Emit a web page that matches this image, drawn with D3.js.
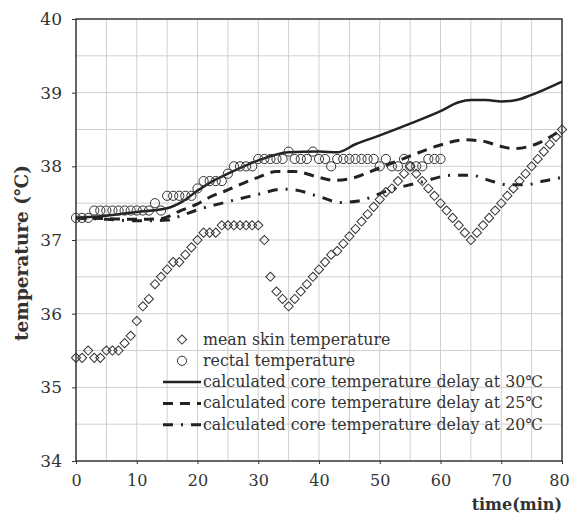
<!DOCTYPE html>
<html>
<head>
<meta charset="utf-8">
<script src="https://cdn.jsdelivr.net/npm/d3@7"></script>
<style>
  body { margin: 0; background: #fff; }
  svg { display: block; }
  text { font-family: "DejaVu Serif", "Liberation Serif", serif; fill: #333; }
</style>
</head>
<body>
<div id="chart"></div>
<script>
// time (min) for the measured series, one reading per minute
const skinTime = d3.range(0, 81);
const skinTemp = [35.4, 35.4, 35.5, 35.4, 35.4, 35.5, 35.5, 35.5, 35.6, 35.7,
  35.9, 36.1, 36.2, 36.4, 36.5, 36.6, 36.7, 36.7, 36.8, 36.9,
  37.0, 37.1, 37.1, 37.1, 37.2, 37.2, 37.2, 37.2, 37.2, 37.2,
  37.2, 37.0, 36.5, 36.3, 36.2, 36.1, 36.2, 36.3, 36.4, 36.5,
  36.6, 36.7, 36.8, 36.85, 36.95, 37.05, 37.15, 37.25, 37.35, 37.45,
  37.55, 37.65, 37.7, 37.8, 37.9, 38.0, 37.9, 37.8, 37.7, 37.6,
  37.5, 37.4, 37.3, 37.2, 37.1, 37.0, 37.1, 37.2, 37.3, 37.4,
  37.5, 37.6, 37.7, 37.8, 37.9, 38.0, 38.1, 38.2, 38.3, 38.4, 38.5];

const rectalTime = d3.range(0, 61);
const rectalTemp = [37.3, 37.3, 37.3, 37.4, 37.4, 37.4, 37.4, 37.4, 37.4, 37.4,
  37.4, 37.4, 37.4, 37.5, 37.4, 37.6, 37.6, 37.6, 37.6, 37.6,
  37.7, 37.8, 37.8, 37.8, 37.8, 37.9, 38.0, 38.0, 38.0, 38.0,
  38.1, 38.1, 38.1, 38.1, 38.1, 38.2, 38.1, 38.1, 38.1, 38.2,
  38.1, 38.1, 38.0, 38.1, 38.1, 38.1, 38.1, 38.1, 38.1, 38.1,
  38.0, 38.1, 38.0, 38.0, 38.1, 38.0, 38.0, 38.0, 38.1, 38.1, 38.1];

// calculated core temperature curves
const core30Time = [0, 5, 10, 15, 17.5, 20, 22.5, 25, 30, 35, 40, 43, 46, 50, 55, 60, 63, 65, 67.5, 70, 72.5, 75, 80];
const core30Temp = [37.30, 37.33, 37.38, 37.43, 37.52, 37.67, 37.80, 37.90, 38.08, 38.19, 38.20, 38.19, 38.30, 38.42, 38.58, 38.75, 38.87, 38.90, 38.90, 38.88, 38.90, 38.97, 39.15];

const core25Time = [0, 5, 10, 14, 17, 20, 22, 25, 27.5, 30, 33, 36, 40, 42.5, 45, 50, 55, 60, 64, 67, 70, 72, 75, 80];
const core25Temp = [37.30, 37.29, 37.28, 37.29, 37.39, 37.49, 37.58, 37.68, 37.77, 37.85, 37.93, 37.93, 37.85, 37.81, 37.83, 37.98, 38.14, 38.29, 38.36, 38.34, 38.27, 38.24, 38.28, 38.50];

const core20Time = [0, 5, 10, 15, 17, 20, 25, 30, 34, 36, 40, 43.5, 46.5, 51, 57, 62, 65, 68, 71, 74, 77, 80];
const core20Temp = [37.30, 37.28, 37.26, 37.27, 37.32, 37.41, 37.52, 37.62, 37.69, 37.68, 37.59, 37.51, 37.53, 37.66, 37.79, 37.88, 37.88, 37.81, 37.75, 37.75, 37.80, 37.85];

const xTicks = [0, 10, 20, 30, 40, 50, 60, 70, 80];
const yTicks = [34, 35, 36, 37, 38, 39, 40];

const legendLabels = [
  "mean skin temperature",
  "rectal temperature",
  "calculated core temperature delay at 30\u2103",
  "calculated core temperature delay at 25\u2103",
  "calculated core temperature delay at 20\u2103"
];

const width = 571, height = 516;
const margin = { top: 19, right: 9, bottom: 55, left: 76 };
const ink = "#222";
const dash25 = "10,7";
const dash20 = "10,8,2,8";

const svg = d3.select("#chart").append("svg")
  .attr("width", width)
  .attr("height", height);

const x = d3.scaleLinear().domain([0, 80]).range([margin.left, width - margin.right]);
const y = d3.scaleLinear().domain([34, 40]).range([height - margin.bottom, margin.top]);

// grid
const grid = svg.append("g").attr("stroke", "#cfcfcf").attr("stroke-width", 1);
grid.selectAll("line.v")
  .data(d3.range(5, 80, 5))
  .enter().append("line")
  .attr("x1", d => x(d)).attr("x2", d => x(d))
  .attr("y1", y(34)).attr("y2", y(40));
grid.selectAll("line.h")
  .data(d3.range(34.5, 40, 0.5))
  .enter().append("line")
  .attr("x1", x(0)).attr("x2", x(80))
  .attr("y1", d => y(d)).attr("y2", d => y(d));

// frame
svg.append("rect")
  .attr("x", x(0)).attr("y", y(40))
  .attr("width", x(80) - x(0)).attr("height", y(34) - y(40))
  .attr("fill", "none").attr("stroke", "#333").attr("stroke-width", 1.5);

// axes
const xAxis = svg.append("g")
  .attr("transform", `translate(0,${y(34)})`)
  .call(d3.axisBottom(x).tickValues(xTicks).tickSize(3).tickPadding(11).tickFormat(d3.format("d")));
const yAxis = svg.append("g")
  .attr("transform", `translate(${x(0)},0)`)
  .call(d3.axisLeft(y).tickValues(yTicks).tickSize(4).tickPadding(10).tickFormat(d3.format("d")));
[xAxis, yAxis].forEach(a => {
  a.select(".domain").remove();
  a.selectAll(".tick line").attr("stroke", "#333");
  a.selectAll(".tick text")
    .attr("font-family", "Liberation Serif, serif")
    .attr("font-size", 17)
    .attr("fill", "#333");
});
xAxis.selectAll(".tick text").attr("font-size", 16);
// keep the last label inside the frame
xAxis.selectAll(".tick text").filter(d => d === 80).attr("dx", -3);

// calculated lines
const line = d3.line()
  .x(d => x(d[0]))
  .y(d => y(d[1]))
  .curve(d3.curveMonotoneX);

const curves = [
  { t: core30Time, v: core30Temp, dash: null, w: 2.5 },
  { t: core25Time, v: core25Temp, dash: dash25, w: 3 },
  { t: core20Time, v: core20Temp, dash: dash20, w: 3 }
];
curves.forEach(c => {
  svg.append("path")
    .datum(d3.zip(c.t, c.v))
    .attr("d", line)
    .attr("fill", "none")
    .attr("stroke", ink)
    .attr("stroke-width", c.w)
    .attr("stroke-dasharray", c.dash);
});

// markers
const diamond = d3.symbol().type(d3.symbolSquare).size(42);

svg.append("g").selectAll("path")
  .data(d3.zip(skinTime, skinTemp))
  .enter().append("path")
  .attr("d", diamond)
  .attr("transform", d => `translate(${x(d[0])},${y(d[1])}) rotate(45)`)
  .attr("fill", "none")
  .attr("stroke", "#333")
  .attr("stroke-width", 1);

svg.append("g").selectAll("circle")
  .data(d3.zip(rectalTime, rectalTemp))
  .enter().append("circle")
  .attr("cx", d => x(d[0]))
  .attr("cy", d => y(d[1]))
  .attr("r", 4.6)
  .attr("fill", "none")
  .attr("stroke", "#333")
  .attr("stroke-width", 1);

// legend
const lg = svg.append("g");
const lgX = 182, lgY = 339.5, lgStep = 21.3;
legendLabels.forEach((label, i) => {
  const cy = lgY + i * lgStep;
  if (i === 0) {
    lg.append("path").attr("d", diamond)
      .attr("transform", `translate(${lgX},${cy}) rotate(45)`)
      .attr("fill", "none").attr("stroke", "#333");
  } else if (i === 1) {
    lg.append("circle").attr("cx", lgX).attr("cy", cy).attr("r", 4.6)
      .attr("fill", "none").attr("stroke", "#333");
  } else {
    const c = curves[i - 2];
    lg.append("line")
      .attr("x1", 163).attr("x2", 201)
      .attr("y1", cy).attr("y2", cy)
      .attr("stroke", ink).attr("stroke-width", c.w)
      .attr("stroke-dasharray", c.dash);
  }
  lg.append("text")
    .attr("x", 203).attr("y", cy + 5)
    .attr("font-size", 15.8)
    .text(label);
});

// axis titles
svg.append("text")
  .attr("x", x(80)).attr("y", 510)
  .attr("text-anchor", "end")
  .attr("font-size", 16)
  .attr("font-weight", "bold")
  .text("time(min)");

svg.append("text")
  .attr("transform", `translate(28,${(y(34) + y(40)) / 2 + 13}) rotate(-90)`)
  .attr("text-anchor", "middle")
  .attr("font-size", 18.5)
  .attr("font-weight", "bold")
  .text("temperature (\u2103)");
</script>
</body>
</html>
